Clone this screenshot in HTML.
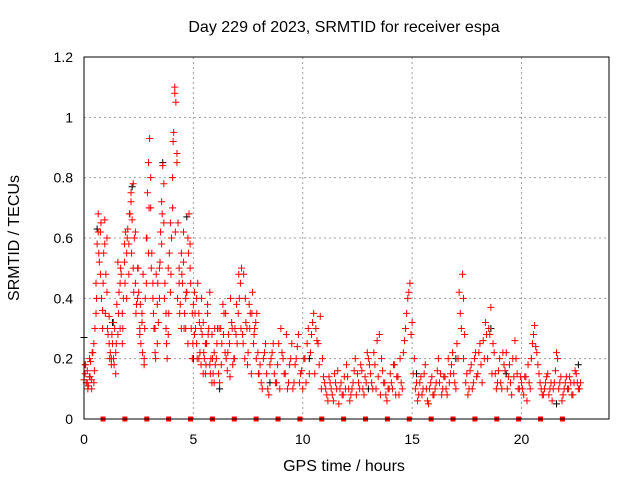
<!DOCTYPE html>
<html><head><meta charset="utf-8"><style>
body{margin:0;background:#fff;}
svg text{font-family:"Liberation Sans",sans-serif;font-size:14px;fill:#000;}
svg text.big{font-size:16px;}
</style></head><body>
<svg id="chart" width="640" height="480">
<text class="big" x="344" y="32" text-anchor="middle">Day 229 of 2023, SRMTID for receiver espa</text>
<text class="big" transform="translate(19,238) rotate(-90)" text-anchor="middle">SRMTID / TECUs</text>
<text class="big" x="344" y="471" text-anchor="middle">GPS time / hours</text>
<g id="grid"></g><g id="ticks"></g><g id="marks"></g>
<rect x="84" y="57" width="525" height="362" fill="none" stroke="#000" stroke-width="1"/>
</svg>
<script>
const xTicks=[0,5,10,15,20];
const yTicks=[0,0.2,0.4,0.6,0.8,1,1.2];
const yTickLabels=["0","0.2","0.4","0.6","0.8","1","1.2"];
const redTimes=[0,0.05,0.1,0.15,0.2,0.25,0.3,0.35,0.4,0.45,0.5,0.55,0.6,0.65,0.7,0.75,0.8,0.85,0.9,0.95,1.0,1.05,1.1,1.15,1.2,1.25,1.3,1.35,1.4,1.45,1.5,1.55,1.6,1.65,1.7,1.75,1.8,1.85,1.9,1.95,2.0,2.05,2.1,2.15,2.2,2.25,2.3,2.35,2.4,2.45,2.5,2.55,2.6,2.65,2.7,2.75,2.8,2.85,2.9,2.95,3.0,3.05,3.1,3.15,3.2,3.25,3.3,3.35,3.4,3.45,3.5,3.55,3.6,3.65,3.7,3.75,3.8,3.85,3.9,3.95,4.0,4.05,4.1,4.15,4.2,4.25,4.3,4.35,4.4,4.45,4.5,4.55,4.6,4.65,4.7,4.75,4.8,4.85,4.9,4.95,5.0,5.05,5.1,5.15,5.2,5.25,5.3,5.35,5.4,5.45,5.5,5.55,5.6,5.65,5.7,5.75,5.8,5.85,5.9,5.95,6.0,6.1,6.2,6.3,6.4,6.5,6.6,6.7,6.8,6.9,7.0,7.1,7.2,7.3,7.4,7.5,7.6,7.7,7.8,7.9,8.0,8.1,8.2,8.3,8.4,8.5,8.6,8.7,8.8,8.9,9.0,9.1,9.2,9.3,9.4,9.5,9.6,9.7,9.8,9.9,10.0,10.1,10.2,10.3,10.4,10.5,10.6,10.7,10.8,10.9,11.0,11.1,11.2,11.3,11.4,11.5,11.6,11.7,11.8,11.9,12.0,12.1,12.2,12.3,12.4,12.5,12.6,12.7,12.8,12.9,13.0,13.1,13.2,13.3,13.4,13.5,13.6,13.7,13.8,13.9,14.0,14.1,14.2,14.3,14.4,14.5,14.6,14.7,14.8,14.9,15.0,15.1,15.2,15.3,15.4,15.5,15.6,15.7,15.8,15.9,16.0,16.1,16.2,16.3,16.4,16.5,16.6,16.7,16.8,16.9,17.0,17.1,17.2,17.3,17.35,17.4,17.5,17.6,17.7,17.8,17.9,18.0,18.1,18.2,18.3,18.4,18.5,18.6,18.7,18.8,18.9,19.0,19.1,19.2,19.3,19.4,19.5,19.6,19.7,19.8,19.9,20.0,20.1,20.2,20.3,20.4,20.5,20.6,20.7,20.8,20.9,21.0,21.1,21.2,21.3,21.4,21.5,21.6,21.7,21.8,21.9,22.0,22.1,22.2,22.3,22.4,22.5,22.6,22.7];
const redValues=[0.13,0.18,0.12,0.16,0.11,0.14,0.19,0.13,0.22,0.12,0.3,0.45,0.58,0.68,0.52,0.62,0.4,0.36,0.55,0.66,0.48,0.6,0.28,0.34,0.22,0.18,0.25,0.2,0.3,0.15,0.38,0.52,0.42,0.3,0.48,0.25,0.4,0.58,0.62,0.55,0.63,0.48,0.68,0.72,0.66,0.78,0.6,0.45,0.38,0.5,0.42,0.3,0.25,0.35,0.48,0.2,0.4,0.6,0.75,0.85,0.93,0.7,0.55,0.4,0.3,0.22,0.48,0.38,0.32,0.5,0.62,0.72,0.84,0.65,0.45,0.35,0.2,0.28,0.55,0.42,0.6,0.8,0.95,1.1,1.05,0.88,0.65,0.5,0.38,0.55,0.45,0.62,0.35,0.3,0.42,0.6,0.68,0.5,0.3,0.2,0.38,0.42,0.3,0.25,0.45,0.35,0.22,0.18,0.28,0.32,0.2,0.15,0.25,0.38,0.3,0.42,0.2,0.12,0.15,0.22,0.18,0.3,0.12,0.25,0.35,0.2,0.28,0.4,0.18,0.3,0.25,0.4,0.5,0.48,0.32,0.22,0.35,0.42,0.3,0.35,0.15,0.12,0.2,0.25,0.1,0.18,0.22,0.15,0.12,0.25,0.3,0.2,0.15,0.1,0.18,0.25,0.12,0.2,0.28,0.15,0.1,0.2,0.25,0.15,0.28,0.35,0.3,0.25,0.34,0.2,0.12,0.08,0.14,0.1,0.06,0.12,0.16,0.1,0.08,0.14,0.18,0.1,0.08,0.12,0.2,0.15,0.1,0.16,0.08,0.12,0.2,0.15,0.1,0.18,0.26,0.28,0.2,0.12,0.08,0.1,0.15,0.1,0.18,0.14,0.08,0.12,0.22,0.3,0.4,0.45,0.32,0.2,0.12,0.08,0.14,0.1,0.18,0.06,0.1,0.14,0.08,0.12,0.2,0.15,0.1,0.14,0.08,0.12,0.18,0.15,0.1,0.2,0.35,0.48,0.4,0.28,0.15,0.1,0.18,0.12,0.22,0.15,0.25,0.12,0.2,0.28,0.3,0.37,0.25,0.15,0.12,0.2,0.1,0.18,0.22,0.14,0.12,0.2,0.26,0.15,0.1,0.12,0.08,0.14,0.18,0.1,0.25,0.31,0.22,0.15,0.1,0.08,0.12,0.15,0.1,0.06,0.12,0.22,0.1,0.14,0.08,0.12,0.1,0.14,0.08,0.12,0.15,0.1,0.12];
const red2Times=[0.05,0.15,0.25,0.35,0.45,0.55,0.65,0.75,0.85,0.95,1.05,1.15,1.25,1.35,1.45,1.55,1.65,1.75,1.85,1.95,2.05,2.15,2.25,2.35,2.45,2.55,2.65,2.75,2.85,2.95,3.05,3.15,3.25,3.35,3.45,3.55,3.65,3.75,3.85,3.95,4.05,4.15,4.25,4.35,4.45,4.55,4.65,4.75,4.85,4.95,5.05,5.15,5.25,5.35,5.45,5.55,5.65,5.75,5.85,5.95,6.05,6.15,6.25,6.35,6.45,6.55,6.65,6.75,6.85,6.95,7.05,7.15,7.25,7.35,7.45,7.55,7.65,7.75,7.85,7.95,8.05,8.15,8.25,8.35,8.45,8.55,8.65,8.75,8.85,8.95,9.05,9.15,9.25,9.35,9.45,9.55,9.65,9.75,9.85,9.95,10.05,10.15,10.25,10.35,10.45,10.55,10.65,10.75,10.85,10.95,11.05,11.15,11.25,11.35,11.45,11.55,11.65,11.75,11.85,11.95,12.05,12.15,12.25,12.35,12.45,12.55,12.65,12.75,12.85,12.95,13.05,13.15,13.25,13.35,13.45,13.55,13.65,13.75,13.85,13.95,14.05,14.15,14.25,14.35,14.45,14.55,14.65,14.75,14.85,14.95,15.05,15.15,15.25,15.35,15.45,15.55,15.65,15.75,15.85,15.95,16.05,16.15,16.25,16.35,16.45,16.55,16.65,16.75,16.85,16.95,17.05,17.15,17.25,17.35,17.45,17.55,17.65,17.75,17.85,17.95,18.05,18.15,18.25,18.35,18.45,18.55,18.65,18.75,18.85,18.95,19.05,19.15,19.25,19.35,19.45,19.55,19.65,19.75,19.85,19.95,20.05,20.15,20.25,20.35,20.45,20.55,20.65,20.75,20.85,20.95,21.05,21.15,21.25,21.35,21.45,21.55,21.65,21.75,21.85,21.95,22.05,22.15,22.25,22.35,22.45,22.55,22.65];
const red2Values=[0.15,0.12,0.2,0.1,0.25,0.35,0.62,0.48,0.3,0.58,0.42,0.25,0.2,0.32,0.22,0.28,0.45,0.35,0.52,0.4,0.58,0.75,0.5,0.62,0.4,0.28,0.32,0.18,0.45,0.55,0.8,0.45,0.3,0.25,0.4,0.58,0.78,0.3,0.5,0.65,0.7,1.08,0.85,0.45,0.3,0.52,0.4,0.25,0.58,0.35,0.28,0.4,0.2,0.3,0.15,0.25,0.35,0.18,0.28,0.12,0.2,0.15,0.3,0.38,0.22,0.16,0.25,0.32,0.2,0.28,0.35,0.45,0.28,0.2,0.3,0.38,0.15,0.25,0.32,0.22,0.18,0.1,0.22,0.15,0.08,0.2,0.25,0.12,0.18,0.1,0.22,0.15,0.28,0.12,0.2,0.1,0.18,0.24,0.12,0.16,0.2,0.12,0.3,0.22,0.32,0.15,0.26,0.18,0.1,0.14,0.1,0.06,0.12,0.08,0.15,0.1,0.05,0.12,0.08,0.1,0.14,0.06,0.1,0.16,0.08,0.12,0.18,0.1,0.14,0.22,0.18,0.12,0.22,0.1,0.14,0.08,0.16,0.12,0.06,0.1,0.12,0.18,0.08,0.14,0.2,0.1,0.26,0.35,0.42,0.28,0.15,0.1,0.06,0.12,0.08,0.15,0.1,0.05,0.12,0.08,0.1,0.16,0.12,0.08,0.14,0.1,0.2,0.15,0.22,0.12,0.25,0.42,0.3,0.2,0.12,0.08,0.16,0.1,0.2,0.14,0.22,0.18,0.26,0.32,0.2,0.28,0.15,0.22,0.1,0.16,0.12,0.22,0.16,0.1,0.18,0.08,0.14,0.2,0.1,0.14,0.1,0.14,0.06,0.12,0.2,0.28,0.24,0.18,0.12,0.08,0.1,0.14,0.08,0.12,0.1,0.16,0.2,0.12,0.06,0.1,0.14,0.1,0.12,0.08,0.16,0.12,0.1];
const red3Times=[0.075,0.175,0.275,0.375,0.475,0.575,0.675,0.775,0.875,0.975,1.075,1.175,1.275,1.375,1.475,1.575,1.675,1.775,1.875,1.975,2.075,2.175,2.275,2.375,2.475,2.575,2.675,2.775,2.875,2.975,3.075,3.175,3.275,3.375,3.475,3.575,3.675,3.775,3.875,3.975,4.075,4.175,4.275,4.375,4.475,4.575,4.675,4.775,4.875,4.975,5.075,5.175,5.275,5.375,5.475,5.575,5.675,5.775,5.875,5.975,6.075,6.175,6.275,6.375,6.475,6.575,6.675,6.775,6.875,6.975,7.075,7.175,7.275,7.375,7.475,7.575,7.675,7.775,7.875,7.975];
const red3Values=[0.18,0.1,0.14,0.22,0.16,0.4,0.55,0.65,0.45,0.35,0.3,0.2,0.28,0.18,0.25,0.35,0.5,0.3,0.45,0.6,0.68,0.55,0.42,0.35,0.5,0.38,0.22,0.3,0.6,0.7,0.5,0.35,0.2,0.45,0.52,0.68,0.4,0.25,0.35,0.48,0.92,0.62,0.4,0.35,0.48,0.3,0.42,0.55,0.45,0.25,0.35,0.2,0.32,0.4,0.22,0.18,0.28,0.15,0.2,0.3,0.25,0.3,0.18,0.28,0.35,0.22,0.14,0.3,0.2,0.38,0.48,0.3,0.25,0.4,0.18,0.3,0.35,0.28,0.2,0.15];
const blackTimes=[0,0.6,2.2,3.6,4.7,5.0,6.2,10.3,15.2,18.6,19.3,21.6,22.6,1.3,8.5,13.0,17.0];
const blackValues=[0.27,0.63,0.77,0.85,0.67,0.2,0.1,0.2,0.15,0.3,0.15,0.05,0.18,0.32,0.12,0.1,0.2];
const gapTimes=[0.87,1.87,2.87,3.87,4.87,5.87,6.87,7.87,8.87,9.87,10.87,11.87,12.87,13.87,14.87,15.87,16.87,17.87,18.87,19.87,20.87,21.87];
const NS="http://www.w3.org/2000/svg";
const X0=84,X1=609,Y0=419,Y1=57,XMAX=24,YMAX=1.2;
function sx(t){return X0+(X1-X0)*t/XMAX;}
function sy(v){return Y0-(Y0-Y1)*v/YMAX;}
function mk(tag,attrs,parent){const e=document.createElementNS(NS,tag);for(const k in attrs)e.setAttribute(k,attrs[k]);parent.appendChild(e);return e;}
const grid=document.getElementById('grid'),ticks=document.getElementById('ticks'),marks=document.getElementById('marks');
xTicks.forEach((t,i)=>{
  const x=sx(t);
  if(t>0){const g=mk('line',{x1:x,x2:x,y1:Y0,y2:Y1,stroke:'#a0a0a0','stroke-dasharray':'2,3'},grid);
  
  }
  const l=mk('text',{x:x,y:Y0+25,'text-anchor':'middle'},ticks);l.textContent=String(t);
  
  
});
yTicks.forEach((v,i)=>{
  const y=sy(v);
  if(v>0&&v<YMAX){const g=mk('line',{x1:X0,x2:X1,y1:y,y2:y,stroke:'#a0a0a0','stroke-dasharray':'2,3'},grid);
  
  }
  const l=mk('text',{x:X0-11,y:y+5,'text-anchor':'end'},ticks);l.textContent=yTickLabels[i];
  
  
});
function cross(t,v,c,name){
  const x=sx(t),y=sy(v);
  const p=mk('path',{d:`M${x-3.5},${y}h7M${x},${y-3.5}v7`,stroke:c,'stroke-width':1,fill:'none'},marks);
  
  
}
blackTimes.forEach((t,i)=>cross(t,blackValues[i],'#000','black-point'));
redTimes.forEach((t,i)=>cross(t,redValues[i],'#f00','red-point'));
red2Times.forEach((t,i)=>cross(t,red2Values[i],'#f00','red-point'));
red3Times.forEach((t,i)=>cross(t,red3Values[i],'#f00','red-point'));
gapTimes.forEach(t=>{
  const r=mk('rect',{x:sx(t)-2.5,y:Y0-2.5,width:5,height:5,fill:'#f00'},marks);
  
  
});
</script>
</body></html>
